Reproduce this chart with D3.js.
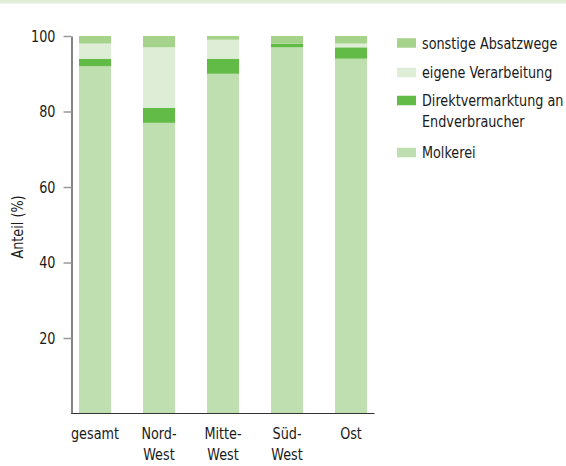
<!DOCTYPE html>
<html>
<head>
<meta charset="utf-8">
<script src="https://cdn.jsdelivr.net/npm/d3@7"></script>
<style>
  body { margin: 0; background: #fff; }
  text { font-family: "DejaVu Sans Condensed", "DejaVu Sans", sans-serif; fill: #1a1a1a; }
</style>
</head>
<body>
<div id="chart"></div>
<script>
var width = 566;
var height = 466;

// data
var regions = ["gesamt", "Nord-West", "Mitte-West", "Süd-West", "Ost"];
var regionLines = [["gesamt"], ["Nord-", "West"], ["Mitte-", "West"], ["Süd-", "West"], ["Ost"]];
var molkerei = [92, 77, 90, 97, 94];
var direkt = [2, 4, 4, 1, 3];
var eigene = [4, 16, 5, 0, 1];
var sonstige = [2, 3, 1, 2, 2];
var seriesNames = ["Molkerei", "Direktvermarktung an Endverbraucher", "eigene Verarbeitung", "sonstige Absatzwege"];
var colors = ["#c0dfb0", "#62bb46", "#deedd5", "#a5d38c"];
var yTicks = [20, 40, 60, 80, 100];

var table = regions.map(function(r, i) {
  return { region: r, Molkerei: molkerei[i], "Direktvermarktung an Endverbraucher": direkt[i],
           "eigene Verarbeitung": eigene[i], "sonstige Absatzwege": sonstige[i] };
});
var stacked = d3.stack().keys(seriesNames)(table);

// the original uses a narrow font, so texts get squeezed horizontally
var squeeze = 0.89;

var svg = d3.select("#chart").append("svg")
  .attr("width", width)
  .attr("height", height);

// top band
svg.append("rect")
  .attr("x", 0).attr("y", 0)
  .attr("width", width).attr("height", 3.5)
  .attr("fill", "#e2efd8");

var xScale = d3.scaleBand().domain(regions).range([71.5, 374.5])
  .paddingInner(0.5).paddingOuter(0.117);
var yScale = d3.scaleLinear().domain([0, 100]).range([413.5, 36]);

// bars
svg.selectAll("g.series")
  .data(stacked)
  .enter()
  .append("g")
  .attr("class", "series")
  .attr("fill", function(d, i) { return colors[i]; })
  .selectAll("rect")
  .data(function(d) { return d; })
  .enter()
  .append("rect")
  .attr("x", function(d) { return xScale(d.data.region); })
  .attr("y", function(d) { return yScale(d[1]); })
  .attr("height", function(d) { return yScale(d[0]) - yScale(d[1]); })
  .attr("width", xScale.bandwidth());

// y axis
var yAxis = d3.axisLeft(yScale).tickValues(yTicks).tickSize(8).tickSizeOuter(0).tickPadding(6);
var yG = svg.append("g")
  .attr("transform", "translate(71.5,0)")
  .call(yAxis);
yG.select(".domain").attr("stroke", "#333").attr("stroke-width", 1.2);
yG.selectAll(".tick line").attr("stroke", "#999").attr("stroke-width", 1.5);
yG.selectAll(".tick text").style("font-size", "16px").attr("fill", "#1a1a1a")
  .style("font-family", "'DejaVu Sans Condensed', 'DejaVu Sans', sans-serif")
  .attr("x", -16 / squeeze)
  .attr("transform", "scale(" + squeeze + ",1)");

svg.append("text")
  .attr("transform", "translate(23,227) rotate(-90) scale(" + squeeze + ",1)")
  .attr("text-anchor", "middle")
  .style("font-size", "16px")
  .text("Anteil (%)");

// x axis line
svg.append("line")
  .attr("x1", 71.5).attr("x2", 374.5)
  .attr("y1", 413.5).attr("y2", 413.5)
  .attr("stroke", "#333").attr("stroke-width", 1.2);

// x labels
svg.selectAll("text.xlab")
  .data(regions)
  .enter()
  .append("text")
  .attr("class", "xlab")
  .attr("text-anchor", "middle")
  .attr("transform", function(d) {
    return "translate(" + (xScale(d) + xScale.bandwidth() / 2) + ",439) scale(" + squeeze + ",1)";
  })
  .style("font-size", "16px")
  .each(function(d, i) {
    var t = d3.select(this);
    regionLines[i].forEach(function(line, j) {
      t.append("tspan")
        .attr("x", 0)
        .attr("dy", j == 0 ? 0 : 21)
        .text(line);
    });
  });

// legend
var legendItems = [
  { name: "sonstige Absatzwege", lines: ["sonstige Absatzwege"], color: colors[3], y: 43 },
  { name: "eigene Verarbeitung", lines: ["eigene Verarbeitung"], color: colors[2], y: 72.5 },
  { name: "Direktvermarktung an Endverbraucher", lines: ["Direktvermarktung an", "Endverbraucher"], color: colors[1], y: 100.5 },
  { name: "Molkerei", lines: ["Molkerei"], color: colors[0], y: 152.5 }
];
var legend = svg.selectAll("g.legend")
  .data(legendItems)
  .enter()
  .append("g")
  .attr("class", "legend")
  .attr("transform", function(d) { return "translate(397," + d.y + ")"; });
legend.append("rect")
  .attr("x", 0).attr("y", -4.75)
  .attr("width", 19).attr("height", 9.5)
  .attr("fill", function(d) { return d.color; });
legend.append("text")
  .attr("transform", "translate(25,5.5) scale(" + squeeze + ",1)")
  .style("font-size", "16px")
  .each(function(d) {
    var t = d3.select(this);
    d.lines.forEach(function(line, j) {
      t.append("tspan").attr("x", 0).attr("dy", j == 0 ? 0 : 21).text(line);
    });
  });
</script>
</body>
</html>
